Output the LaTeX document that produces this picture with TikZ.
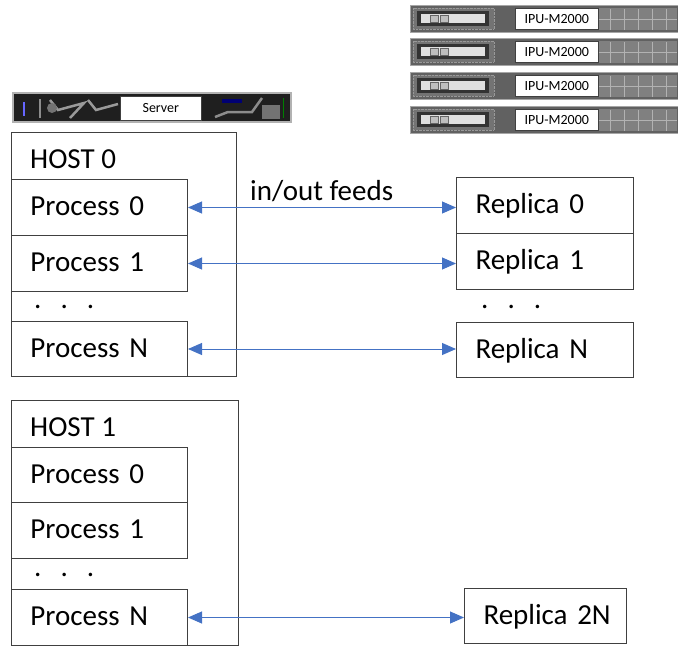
\documentclass[tikz,border=0pt]{standalone}
\usepackage{fontspec}
\setmainfont{Carlito}
\usetikzlibrary{arrows.meta}
\definecolor{edge}{HTML}{404040}
\definecolor{feed}{HTML}{4472C4}
\tikzset{
  x=1pt, y=-1pt,
  box/.style={draw=edge, line width=1pt, rectangle, anchor=north west, inner sep=0pt},
  item/.style={box, align=left, inner xsep=0pt, font=\fontsize{29}{32}\selectfont},
  title/.style={anchor=west, inner sep=0pt, font=\fontsize{29}{32}\selectfont},
  dots/.style={anchor=west, inner sep=0pt, font=\fontsize{29}{32}\selectfont},
  feedarrow/.style={draw=feed, line width=1pt, {Triangle[length=14pt,width=12pt]}-{Triangle[length=14pt,width=12pt]}},
  tag/.style={fill=white, draw=edge, line width=0.6pt, inner sep=0pt, font=\fontsize{14}{16}\selectfont}
}
% left indent plus a fixed-size strut so every label sits on the same baseline
\newcommand{\pad}{\hspace*{19pt}\rule[-5pt]{0pt}{26pt}}
\begin{document}
\begin{tikzpicture}
\useasboundingbox (0,0) rectangle (678,646);

% ---- server chassis ----
\fill[black!88] (13,93) rectangle (291,122);
\draw[black!30, line width=1.5pt] (13,93) rectangle (291,122);
\fill[blue!60!white] (23,102) rectangle (25,116);
\draw[black!45, line width=2pt] (40,99) -- (40,118);
\draw[black!40, line width=2.5pt] (50,100) -- (58,110) -- (84,103) -- (70,118);
\draw[black!40, line width=2.5pt] (88,100) -- (96,110) -- (118,104);
\fill[black!55] (52,108) circle (5);
\node[tag, minimum width=81pt, minimum height=24pt, anchor=north west] (srv) at (120,96) {Server};
\fill[blue!45!black] (222,99) rectangle (242,103);
\draw[black!45, line width=2.5pt] (215,117) -- (228,112) -- (252,112) -- (262,98);
\fill[black!55] (262,105) rectangle (280,119);
\draw[green!50!black, line width=1pt] (283,98) -- (283,118);

% ---- IPU-M2000 units ----
\foreach \u/\y in {1/5, 2/38, 3/72, 4/106}{
  \fill[black!62] (410,\y) rectangle (678,\y+27);
  \draw[black!35, line width=1pt] (410,\y) rectangle (678,\y+27);
  \fill[black!55] (413,\y+3) rectangle (494,\y+24);
  \draw[black!40, densely dotted] (413,\y+3) rectangle (494,\y+24);
  \fill[black!80] (417,\y+6) rectangle (489,\y+21);
  \fill[black!12] (421,\y+9) rectangle (485,\y+18);
  \draw[black!60, fill=black!25] (430,\y+10) rectangle (438,\y+17);
  \draw[black!60, fill=black!25] (440,\y+10) rectangle (448,\y+17);
  \fill[black!50] (598,\y+3) rectangle (677,\y+25);
  \foreach \gx in {610,624,638,652,666}
    \draw[black!30, line width=0.8pt] (\gx,\y+4) -- (\gx,\y+25);
  \draw[black!30, line width=0.8pt] (599,\y+14) -- (677,\y+14);
  \node[tag, minimum width=83pt, minimum height=21pt, anchor=north west] (ipu\u) at (515,\y+3) {IPU-M2000};
}

% ---- host 0 ----
\node[box, minimum width=225pt, minimum height=244pt] (host0) at (11,132) {};
\node[title] (host0t) at (30,159) {HOST 0};
\node[item, text width=176pt, minimum height=56pt] (h0p0) at (11,179) {\pad Process 0};
\node[item, text width=176pt, minimum height=56pt] (h0p1) at (11,235) {\pad Process 1};
\node[dots] (h0d) at (34,307) {.\hspace{19pt}.\hspace{19pt}.};
\node[item, text width=176pt, minimum height=55pt] (h0pn) at (11,321) {\pad Process N};

% ---- replicas ----
\node[item, text width=177pt, minimum height=56pt] (r0) at (456,177) {\pad Replica 0};
\node[item, text width=177pt, minimum height=56pt] (r1) at (456,233) {\pad Replica 1};
\node[dots] (rd) at (481,307) {.\hspace{19pt}.\hspace{19pt}.};
\node[item, text width=177pt, minimum height=55pt] (rn) at (456,322) {\pad Replica N};

% ---- host 1 ----
\node[box, minimum width=227pt, minimum height=245pt] (host1) at (11,400) {};
\node[title] (host1t) at (30,427) {HOST 1};
\node[item, text width=176pt, minimum height=55pt] (h1p0) at (11,447) {\pad Process 0};
\node[item, text width=176pt, minimum height=56pt] (h1p1) at (11,502) {\pad Process 1};
\node[dots] (h1d) at (34,575) {.\hspace{19pt}.\hspace{19pt}.};
\node[item, text width=176pt, minimum height=56pt] (h1pn) at (11,589) {\pad Process N};
\node[item, text width=162pt, minimum height=55pt] (r2n) at (464,588) {\pad Replica 2N};

% ---- feeds ----
\draw[feedarrow] (h0p0.east) -- (h0p0.east -| r0.west);
\draw[feedarrow] (h0p1.east) -- (h0p1.east -| r1.west);
\draw[feedarrow] (h0pn.east) -- (h0pn.east -| rn.west);
\draw[feedarrow] (h1pn.east) -- (h1pn.east -| r2n.west);
\node[anchor=west, inner sep=0pt, font=\fontsize{29}{32}\selectfont] (feedlbl) at (250,191) {in/out feeds};
\end{tikzpicture}
\end{document}
